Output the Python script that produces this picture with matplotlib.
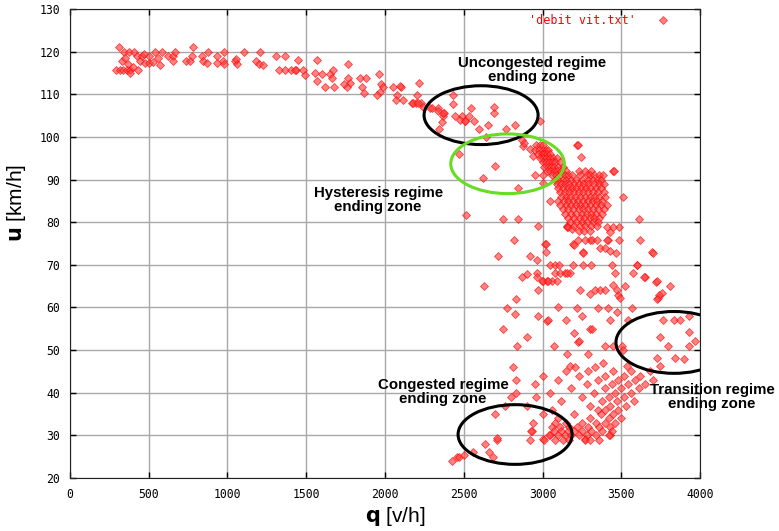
import matplotlib
matplotlib.use("Agg")
import matplotlib.pyplot as plt
from matplotlib.patches import Ellipse

# free flow branch (q, u)
free_q = [313, 343, 377, 406, 328, 292, 317, 338, 359, 380, 381, 434, 423, 444, 476, 504, 455, 504, 529, 561,
          582, 572, 624, 656, 666, 656, 737, 762, 779, 772, 836, 847, 878, 872, 931, 931, 970, 977, 978, 1048,
          1062, 1057, 1105, 1181, 1207, 1200, 1225, 1308, 1365, 1329, 1365, 1405, 1435, 1450, 1429, 1481, 1492,
          1566, 1555, 1598, 1566, 1619, 1651, 1672, 1661, 1676, 1767, 1767, 1778, 1756, 1742, 1842, 1880, 1852,
          1867, 1964, 1973, 1969, 1950, 1990, 2053, 2100, 2079, 2070, 2117, 2218, 2202, 2169, 2196, 2226, 2243,
          2286, 2338, 2375, 2371, 2434, 2434, 2445, 2487, 2508, 2365, 2096, 2180, 2212, 2297, 2339, 2371, 2345,
          2477, 2508, 2536, 2562, 2545, 2600, 2657, 2689, 2693, 2769, 2826, 2642, 2981, 350, 366, 398, 470, 540]
free_u = [121.2, 120, 120, 120, 117.9, 115.7, 115.7, 115.7, 115.7, 115.7, 115, 115.7, 119, 117.9, 117.3, 117.3,
          119, 119, 117.6, 118.4, 120, 116.9, 119, 119, 120, 117.9, 117.9, 117.9, 121.2, 119, 119, 117.9, 120,
          117.3, 119, 117.3, 117.9, 117, 120, 117.9, 117, 118.2, 120, 117.9, 120, 117, 116.8, 119, 119, 115.7,
          115.7, 115.7, 115.7, 118.1, 115.7, 115.7, 114.5, 118.1, 114.9, 114.8, 113, 111.8, 114.8, 115.7, 113.8,
          111.8, 117.1, 113.8, 112.6, 111.6, 112.3, 113.8, 113.8, 111.8, 110.2, 114.8, 112.3, 110.6, 109.8, 111.8,
          111.8, 111.8, 109.8, 108.6, 108.6, 112.7, 109.8, 107.9, 107.9, 107.9, 107, 106.7, 106.7, 105.7, 104.8,
          109.8, 107.7, 104.8, 104.8, 103.7, 103.5, 112, 107.9, 107.9, 106.7, 106, 105.7, 101.9, 104, 103.8,
          104.8, 103.8, 106.7, 101.9, 102.8, 105.7, 107, 101.9, 102.8, 99.9, 103.8, 118.5, 117, 116.3, 119.5, 120]

# scattered points around the hysteresis zone
hyst_edge_q = [2472, 2699, 2620, 2847, 2953, 3001, 2868, 2874, 3006, 3221, 2515, 2751, 2847, 3048, 2974, 3154,
               3243, 3450, 3510, 3613, 3620, 3694, 3454, 3228, 2880, 2920, 2940]
hyst_edge_u = [96, 93.1, 90.4, 88, 91.1, 91.1, 99.3, 97.9, 89.2, 98.1, 81.8, 80.8, 80.8, 84.9, 79, 79,
               95.3, 92.1, 85.9, 80.8, 75.9, 72.9, 92.1, 98.1, 98.5, 97.2, 95.5]

# dense hysteresis cluster, one list of q per speed row
hyst_rows = {
    98: [2960, 2985, 3005],
    97: [2950, 2975, 3000, 3020, 3035],
    96: [2970, 2995, 3010, 3030, 3050],
    95: [2985, 3005, 3025, 3045, 3065, 3090],
    94: [3000, 3020, 3040, 3060, 3080, 3110],
    93: [3010, 3035, 3055, 3075, 3100, 3130],
    92: [3030, 3050, 3070, 3095, 3120, 3150, 3230, 3270, 3310],
    91: [3060, 3085, 3110, 3140, 3165, 3190, 3240, 3280, 3300, 3330, 3360, 3385],
    90: [3080, 3100, 3130, 3150, 3180, 3210, 3250, 3290, 3320, 3350, 3370],
    89: [3090, 3120, 3145, 3170, 3200, 3230, 3260, 3290, 3330, 3360, 3390],
    88: [3100, 3130, 3160, 3185, 3215, 3245, 3275, 3300, 3340, 3370],
    87: [3110, 3140, 3170, 3200, 3230, 3260, 3290, 3320, 3350, 3390],
    86: [3120, 3150, 3175, 3205, 3240, 3270, 3300, 3330, 3360, 3400],
    85: [3100, 3135, 3165, 3195, 3225, 3255, 3290, 3320, 3345, 3380],
    84: [3110, 3150, 3180, 3210, 3240, 3270, 3300, 3340, 3370, 3410],
    83: [3130, 3165, 3195, 3230, 3260, 3290, 3320, 3355, 3390],
    82: [3145, 3180, 3215, 3250, 3280, 3310, 3340, 3380],
    81: [3160, 3200, 3235, 3265, 3300, 3330, 3360],
    80: [3175, 3215, 3250, 3285, 3320, 3355],
    79: [3200, 3240, 3270, 3310, 3345],
    78: [3230, 3265, 3300],
}

# transition / middle part
mid_q = [3488, 3488, 3429, 3416, 3260, 3302, 3228, 3196, 3157, 3164, 3185, 3270, 3313, 3344, 3016, 3200, 3412,
         3450, 3412, 3366, 3397, 3429, 3467, 2921, 2967, 3048, 3080, 3107, 3196, 3255, 3306, 3439, 3598, 2900,
         2963, 3080, 3112, 3143, 3175, 3461, 3577, 3651, 2995, 3027, 3059, 3721, 3810, 2974, 3239, 3334, 3366,
         3397, 3302, 3446, 3471, 3482, 3493, 3524, 3757, 3736, 3217, 3355, 3418, 3475, 3567, 2974, 3027, 3249,
         3302, 3763, 3837, 3870, 2819, 3023, 3023, 2720, 2868, 2967, 3006, 3032, 3090, 2629, 2777, 3032, 2748,
         3200, 3228, 2840, 3070, 3260, 3700, 3602, 3154, 3645, 3725, 3742, 3730, 3429, 3546, 3927, 3313, 3234,
         3746, 3927, 3969, 3397, 3450, 3503, 3799, 3927, 3154, 3291, 3510, 3730, 3842, 3899, 3175, 3207, 3387,
         3334, 3535, 3746, 2830, 2825, 2810, 2900, 3100, 3150]
mid_u = [78.8, 75.9, 77.6, 75.9, 72.9, 75.9, 75.9, 75, 78.8, 78.9, 78.5, 75.9, 75.9, 75.9, 75, 74.7, 78.9,
         78.9, 75.9, 73.9, 73.9, 73.2, 72.8, 72, 71.1, 70, 70, 70, 70, 70, 70, 70, 70, 67.9,
         68, 68.1, 68.1, 68.1, 68.1, 68.1, 68.1, 67.2, 66.1, 66.1, 66.1, 65.9, 65.1, 64.2, 64.2, 64.2, 64.2,
         64.2, 63.2, 65.3, 64.2, 63, 62.3, 65.1, 63.3, 62.3, 59.9, 59.9, 59.9, 58.9, 59.9, 58, 56.8, 58,
         55, 57, 57, 57, 75.9, 75, 72.9, 72, 67.2, 67.2, 66.1, 66.1, 66.1, 65.1, 59.9, 57, 55,
         54.1, 51.9, 50.9, 50.9, 72.8, 72.8, 70, 68.1, 67.2, 66.1, 63, 62, 57, 57, 58, 55, 52.1,
         53.1, 54.2, 52.1, 50.9, 50.9, 50.9, 50.9, 50.9, 49, 49, 50.1, 48.2, 48.2, 48, 46.2, 46.1, 47,
         46.1, 46.2, 46.2, 62, 58.5, 46, 53, 60, 57]

# congested part, rows of q per speed
cong_rows = {
    45: [3150, 3290, 3450, 3560, 3680],
    44: [3000, 3230, 3400, 3520, 3620],
    43: [2830, 3100, 3350, 3480, 3590, 3700],
    42: [2950, 3280, 3440, 3540, 3650],
    41: [3180, 3400, 3500, 3610],
    40: [2830, 3050, 3330, 3460, 3560],
    39: [2800, 2960, 3250, 3420, 3520],
    38: [3120, 3380, 3470, 3580],
    37: [2760, 2900, 3300, 3430, 3530],
    36: [3060, 3350, 3400, 3480],
    35: [2700, 3000, 3200, 3370, 3450],
    34: [3100, 3300, 3420, 3500],
    33: [2940, 3080, 3150, 3250, 3340, 3400, 3460],
    32: [3060, 3110, 3170, 3220, 3290, 3360, 3430],
    31: [2930, 3070, 3120, 3160, 3200, 3250, 3310, 3380, 3440],
    30: [3040, 3100, 3140, 3180, 3230, 3280, 3340, 3420],
    29: [3010, 3080, 3130, 3170, 3270, 3300, 3360],
}
tail_q = [2424, 2456, 2470, 2502, 2557, 2636, 2661, 2683, 2708, 2710, 2921, 2934, 3004, 3048, 3268, 3426]
tail_u = [24, 25, 25, 25.3, 26.1, 28, 26.1, 24.9, 28.8, 29.3, 28.8, 31, 29.1, 30, 29.1, 30]

q_all = free_q + hyst_edge_q + mid_q + tail_q
u_all = free_u + hyst_edge_u + mid_u + tail_u
for rows in (hyst_rows, cong_rows):
    for u, qs in rows.items():
        q_all += qs
        u_all += [u] * len(qs)

fig = plt.figure(figsize=(7.79, 5.31), dpi=100)
ax = fig.add_axes([70 / 779, 1 - 478 / 531, 630 / 779, 469 / 531])

mstyle = dict(linestyle='none', marker='D', ms=3.6,
              mfc=(1, 0.25, 0.25, 0.65), mec=(1, 0, 0, 0.65), mew=0.6)
ax.plot(q_all, u_all, **mstyle)

# key, gnuplot style
ax.text(0.898, 0.976, "'debit vit.txt'", transform=ax.transAxes, ha='right', va='center',
        color='red', family='DejaVu Sans Mono', fontsize=8.5)
ax.plot([0.941], [0.976], transform=ax.transAxes, clip_on=False, **mstyle)

# zones
ellipses = [
    ((2610, 105.1), 724, 13.8, 'black'),
    ((2778, 93.7), 721, 14.0, '#66dd22'),
    ((3835, 51.8), 737, 14.5, 'black'),
    ((2826, 30.2), 724, 14.0, 'black'),
]
for c, w, h, col in ellipses:
    ax.add_patch(Ellipse(c, w, h, fill=False, edgecolor=col, lw=2.2, zorder=5))

labels = [
    (2934, 115.7, 'Uncongested regime\nending zone'),
    (1956, 85.3, 'Hysteresis regime\nending zone'),
    (2369, 40.1, 'Congested regime\nending zone'),
    (4077, 39.1, 'Transition regime\nending zone'),
]
for x, y, s in labels:
    ax.text(x, y, s, ha='center', va='center', fontsize=10.8, fontweight='bold',
            family='Liberation Sans', linespacing=1.0, clip_on=False, zorder=6)

ax.set_xlim(0, 4000)
ax.set_ylim(20, 130)
ax.set_xticks(range(0, 4001, 500))
ax.set_yticks(range(20, 131, 10))
ax.grid(True, color='#a8a8a8', lw=1)
ax.set_axisbelow(True)
ax.tick_params(direction='in', top=True, right=True, length=4, width=1, pad=7)
for lab in ax.get_xticklabels() + ax.get_yticklabels():
    lab.set_family('DejaVu Sans Mono')
    lab.set_fontsize(8.3)
for sp in ax.spines.values():
    sp.set_color('#222222')

ax.set_xlabel(r'$\mathbf{q}$ [v/h]', fontsize=15, family='Liberation Sans')
ax.set_ylabel(r'$\mathbf{u}$ [km/h]', fontsize=15, family='Liberation Sans')
ax.xaxis.set_label_coords(0.516, -0.057)
ax.yaxis.set_label_coords(-0.067, 0.586)

fig.savefig('out.png', dpi=100)
